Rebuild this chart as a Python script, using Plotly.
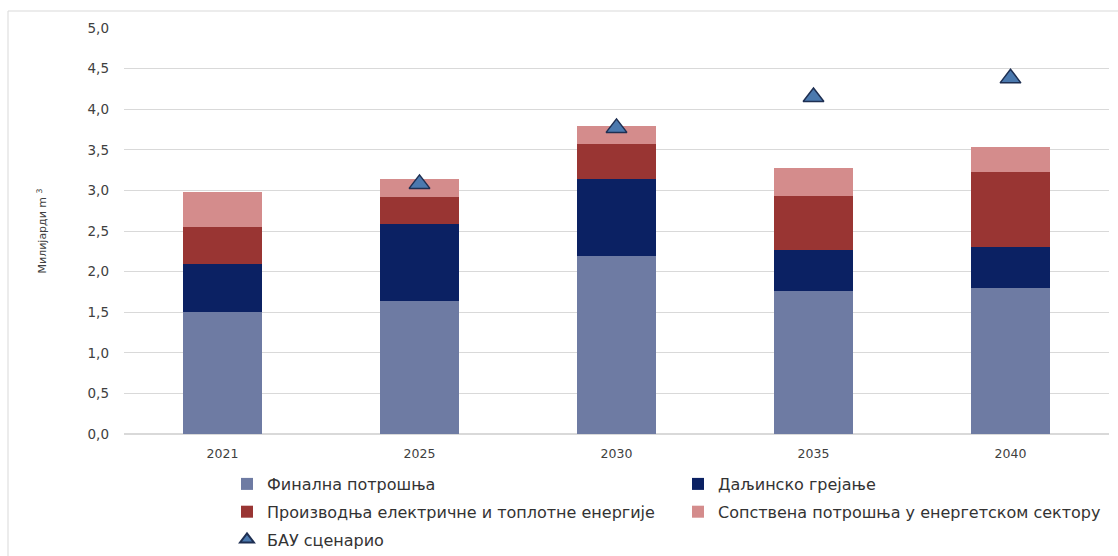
import plotly.graph_objects as go

years = ["2021", "2025", "2030", "2035", "2040"]

final_consumption = [1.50, 1.64, 2.19, 1.76, 1.80]
district_heating = [0.59, 0.95, 0.95, 0.50, 0.50]
power_heat_production = [0.46, 0.33, 0.43, 0.67, 0.93]
energy_sector_own_use = [0.43, 0.22, 0.22, 0.35, 0.31]
bau_scenario = [None, 3.08, 3.77, 4.15, 4.38]

y_ticks = [0, 0.5, 1.0, 1.5, 2.0, 2.5, 3.0, 3.5, 4.0, 4.5, 5.0]

# (name, values, colour, legend column)
series = [
    ("Финална потрошња", final_consumption, "#6E7BA3", "legend"),
    ("Даљинско грејање", district_heating, "#0B2163", "legend2"),
    ("Производња електричне и топлотне енергије", power_heat_production, "#993533", "legend"),
    ("Сопствена потрошња у енергетском сектору", energy_sector_own_use, "#D48C8C", "legend2"),
]

fig = go.Figure()
for i, (name, values, color, leg) in enumerate(series):
    fig.add_trace(go.Bar(
        x=years, y=values, name=name, legend=leg, legendgroup=f"g{i}",
        marker=dict(color=color, line=dict(width=0)),
    ))

fig.add_trace(go.Scatter(
    x=years, y=bau_scenario, name="БАУ сценарио", mode="markers",
    legend="legend", legendgroup="g_bau",
    marker=dict(symbol="triangle-up", size=18, color="#4B79AE",
                line=dict(color="#1E2F52", width=1.5)),
))

font_family = "DejaVu Sans, sans-serif"
text_color = "#404040"

# plot area in pixels: left 124, right 1109, top 28, bottom 434
PLOT_L, PLOT_W, PLOT_B, PLOT_H = 124, 985, 434, 406


def px_x(px):
    return (px - PLOT_L) / PLOT_W


def px_y(py):
    return (PLOT_B - py) / PLOT_H


legend_common = dict(
    xref="paper", yref="paper", orientation="v",
    xanchor="left", yanchor="top", y=px_y(467),
    font=dict(family=font_family, size=16, color="#333333"),
    tracegroupgap=4, itemsizing="constant", bgcolor="rgba(0,0,0,0)",
)

fig.update_layout(
    width=1118, height=556,
    barmode="stack", bargap=0.6,
    separators=", ",
    paper_bgcolor="white", plot_bgcolor="white",
    margin=dict(l=124, r=9, t=28, b=122, autoexpand=False),
    font=dict(family=font_family, size=12, color=text_color),
    showlegend=True,
    legend=dict(legend_common, x=px_x(227)),
    legend2=dict(legend_common, x=px_x(678)),
    xaxis=dict(
        type="category", showgrid=False, showline=False, zeroline=False,
        ticks="", ticklabelstandoff=10,
        tickfont=dict(family=font_family, size=12.5, color=text_color),
    ),
    yaxis=dict(
        range=[0, 5], tickvals=y_ticks, tickformat=".1f",
        showgrid=True, gridcolor="#D9D9D9", gridwidth=1,
        zeroline=True, zerolinecolor="#D9D9D9",
        showline=False, ticks="", ticklabelstandoff=14,
        tickfont=dict(family=font_family, size=13.5, color=text_color),
        title=dict(text="Милијарди m <sup>3</sup>",
                   font=dict(family=font_family, size=11, color=text_color),
                   standoff=38),
    ),
    shapes=[dict(
        type="rect", xref="paper", yref="paper",
        x0=px_x(8), x1=px_x(1160), y0=px_y(620), y1=px_y(11),
        line=dict(color="#D9D9D9", width=1), fillcolor="rgba(0,0,0,0)",
        layer="below",
    )],
)

fig.write_html("out.html")
